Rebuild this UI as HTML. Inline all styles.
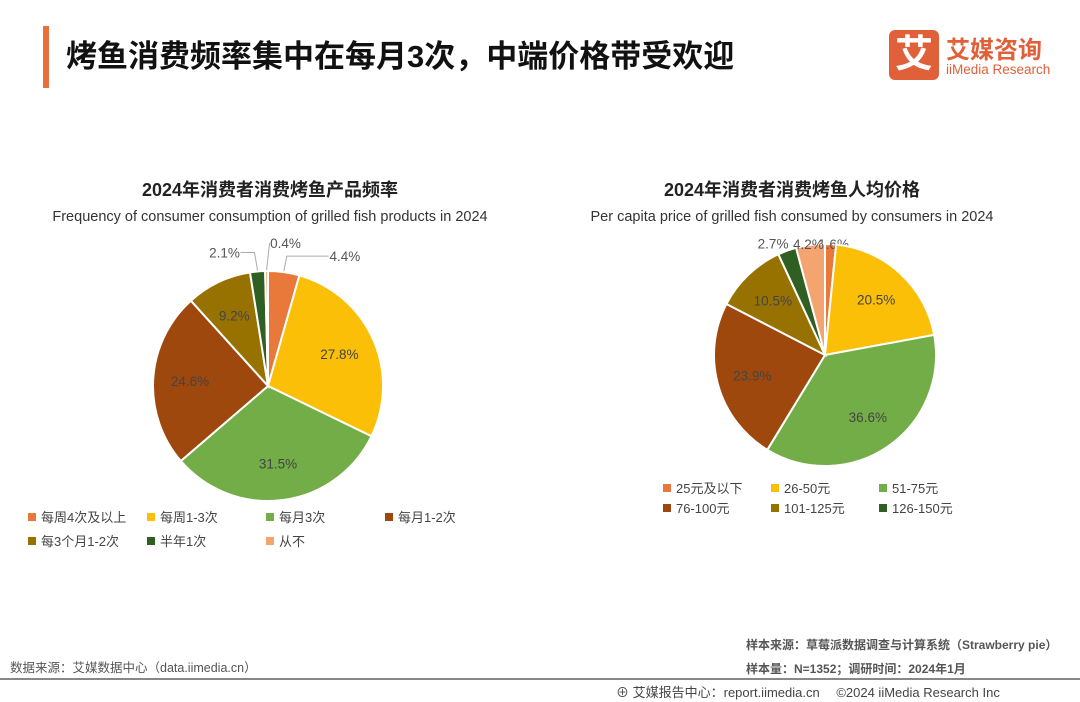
<!DOCTYPE html>
<html><head><meta charset="utf-8">
<style>
body{margin:0;width:1080px;height:702px;background:#fff;font-family:"Liberation Sans","Noto Sans CJK SC",sans-serif;position:relative;overflow:hidden}
.abs{position:absolute}
.ct{font-weight:bold;font-size:18px;color:#222;text-align:center}
.cs{font-size:14.5px;color:#333;text-align:center}
.ft{font-size:12.5px;color:#555}
</style></head><body>
<div class="abs" style="left:43px;top:26px;width:6px;height:62px;background:#e8703a"></div>
<div class="abs" style="left:66px;top:31px;font-size:31px;font-weight:bold;color:#111">烤鱼消费频率集中在每月3次，中端价格带受欢迎</div>
<div class="abs" style="left:889px;top:30px;width:50px;height:50px;background:#e0603a;border-radius:6px;color:#fff;font-size:38px;font-weight:bold;text-align:center;line-height:50px">艾</div>
<div class="abs" style="left:946px;top:30px;font-size:24px;font-weight:bold;color:#e0603a">艾媒咨询</div>
<div class="abs" style="left:946px;top:62px;font-size:13.5px;color:#e0603a">iiMedia Research</div>

<div class="abs ct" style="left:70px;top:176px;width:400px">2024年消费者消费烤鱼产品频率</div>
<div class="abs cs" style="left:0px;top:209px;width:540px">Frequency of consumer consumption of grilled fish products in 2024</div>
<div class="abs ct" style="left:592px;top:176px;width:400px">2024年消费者消费烤鱼人均价格</div>
<div class="abs cs" style="left:522px;top:209px;width:540px">Per capita price of grilled fish consumed by consumers in 2024</div>

<svg id="chart" class="abs" style="left:0;top:0" width="1080" height="702"></svg>

<div class="abs ft" style="left:10px;top:657px">数据来源：艾媒数据中心（data.iimedia.cn）</div>
<div class="abs ft" style="left:746px;top:636px;font-weight:bold;font-size:12px">样本来源：草莓派数据调查与计算系统（Strawberry pie）</div>
<div class="abs ft" style="left:746px;top:660px;font-weight:bold;font-size:12px">样本量：N=1352；调研时间：2024年1月</div>
<div class="abs" style="left:0;top:678px;width:1080px;height:2px;background:#888"></div>
<div class="abs ft" style="left:616px;top:682px;font-size:13px;color:#444">⊕ 艾媒报告中心：report.iimedia.cn　 ©2024  iiMedia Research  Inc</div>

<script>
const leftCats=["每周4次及以上","每周1-3次","每月3次","每月1-2次","每3个月1-2次","半年1次","从不"];
const leftVals=[4.4,27.8,31.5,24.6,9.2,2.1,0.4];
const rightCats=["25元及以下","26-50元","51-75元","76-100元","101-125元","126-150元","150元以上"];
const rightVals=[1.6,20.5,36.6,23.9,10.5,2.7,4.2];
const colors=["#e8793a","#fbbf08","#72ad47","#9e480e","#987200","#2f5f23","#f4a46f"];
// label offsets (style) for small slices, relative to slice edge point
const leftOffsets={0:[61,-16,true],5:[-33,-19,true],6:[19,-28,true]};
const rightOffsets={0:[3,0,false],5:[-14,-7,false],6:[-2,-1,false]};
const svg=document.getElementById('chart');
const NS="http://www.w3.org/2000/svg";
function el(t,a){const e=document.createElementNS(NS,t);for(const k in a)e.setAttribute(k,a[k]);svg.appendChild(e);return e;}
function pie(cx,cy,r,vals,prefix,offs){
  const tot=vals.reduce((a,b)=>a+b,0);let a0=0;
  vals.forEach((v,i)=>{
    const a1=a0+v/tot*2*Math.PI;
    const p=(a)=>[cx+r*Math.sin(a),cy-r*Math.cos(a)];
    const [x0,y0]=p(a0),[x1,y1]=p(a1);
    const s=el('path',{d:`M${cx},${cy}L${x0},${y0}A${r},${r} 0 ${a1-a0>Math.PI?1:0} 1 ${x1},${y1}Z`,fill:colors[i],stroke:'#fff','stroke-width':2});
    
    
    const am=(a0+a1)/2;let lx,ly;
    if(v<5&&offs[i]){
      const ex=cx+r*Math.sin(am),ey=cy-r*Math.cos(am);
      lx=ex+offs[i][0];ly=ey+offs[i][1];
      if(offs[i][2]){
        const hx=lx+(offs[i][0]>0?-16:16);
        const ln=el('polyline',{points:`${ex},${ey-1} ${ex+(offs[i][0]>0?3:-3)},${ly} ${hx},${ly}`,fill:'none',stroke:'#aaa','stroke-width':1});
        
        
      }
    } else {lx=cx+r*0.68*Math.sin(am);ly=cy-r*0.68*Math.cos(am);}
    const t=el('text',{x:lx,y:ly+5,'text-anchor':'middle','font-size':13.5,fill:(v<5?'#555':'#444'),'font-family':'Liberation Sans, sans-serif'});
    t.textContent=v.toFixed(1)+'%';
    
    
    a0=a1;
  });
}
pie(268,386,115,leftVals,'freq',leftOffsets);
pie(825,355,111,rightVals,'price',rightOffsets);
function legend(items,x0,y0,colW,perRow,rowH,prefix){
  items.forEach((c,i)=>{
    const x=x0+(i%perRow)*colW,y=y0+Math.floor(i/perRow)*rowH;
    const r=el('rect',{x:x,y:y-9,width:8,height:8,fill:colors[i]});
    
    
    const t=el('text',{x:x+13,y:y,'font-size':13,fill:'#444','font-family':'Liberation Sans, Noto Sans CJK SC, sans-serif'});
    t.textContent=c;
    
    
  });
}
legend(leftCats,28,522,119,4,24,'freq');
legend(rightCats.slice(0,6),663,493,108,3,20,'price');
</script>
</body></html>
